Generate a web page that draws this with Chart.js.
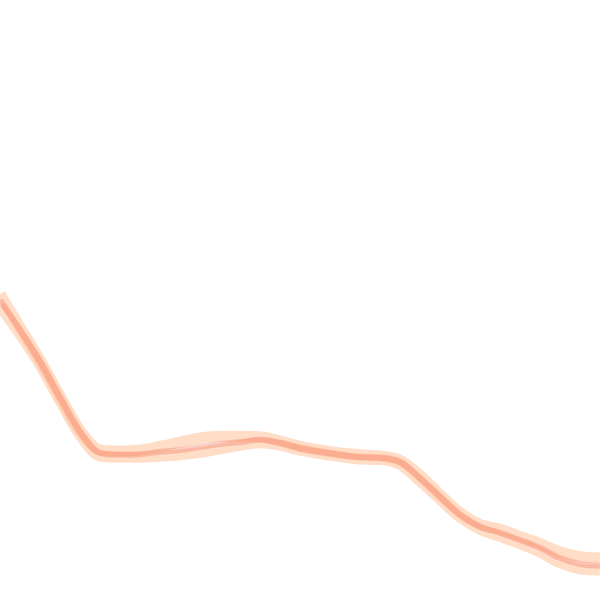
<!DOCTYPE html>
<html>
<head>
<meta charset="utf-8">
<script src="https://cdn.jsdelivr.net/npm/chart.js@4/dist/chart.umd.min.js"></script>
<style>
  html, body { margin: 0; padding: 0; background: #fff; }
</style>
</head>
<body>
<canvas id="line_chart" width="600" height="600"></canvas>
<script>
// 31 evenly spaced samples
var labels = [];
for (var i = 0; i <= 30; i++) { labels.push(i); }

var mainValues = [50.0, 45.0, 39.7, 33.7, 28.0, 24.5, 24.2, 24.3, 24.7, 25.0, 25.5, 26.0, 26.3, 26.7, 26.2,
                  25.3, 24.7, 24.2, 23.8, 23.7, 23.0, 20.3, 17.2, 14.2, 12.2, 11.2, 10.0, 8.7, 7.0, 6.0, 5.7];
var upperValues = [51.0, 45.5, 40.0, 34.0, 28.3, 25.0, 24.8, 25.0, 25.6, 26.3, 27.0, 27.3, 27.3, 27.2, 26.5,
                   25.6, 25.0, 24.5, 24.2, 24.0, 23.3, 20.8, 17.6, 14.6, 12.6, 11.8, 10.6, 9.4, 8.0, 7.2, 7.0];
var lowerValues = [49.0, 44.3, 39.2, 33.2, 27.5, 24.0, 23.8, 23.8, 24.0, 24.2, 24.6, 25.2, 25.8, 26.2, 25.8,
                   25.0, 24.4, 23.9, 23.5, 23.4, 22.6, 19.8, 16.8, 13.8, 11.8, 10.6, 9.4, 8.0, 6.2, 5.2, 5.0];

new Chart(document.getElementById("line_chart").getContext("2d"), {
    type: 'line',
    data: {
        labels: labels,
        datasets: [{
            data: upperValues,
            borderColor: 'rgba(255, 180, 130, 0.45)',
            borderWidth: 11,
            order: 3
        }, {
            data: lowerValues,
            borderColor: 'rgba(255, 180, 130, 0.45)',
            borderWidth: 11,
            order: 2
        }, {
            data: mainValues,
            borderColor: 'rgba(240, 120, 100, 0.35)',
            borderWidth: 6,
            order: 1
        }]
    },
    options: {
        responsive: false,
        animation: false,
        layout: { padding: 0 },
        elements: {
            point: { radius: 0 },
            line: { tension: 0.4, cubicInterpolationMode: 'monotone', fill: false }
        },
        plugins: { legend: { display: false }, tooltip: { enabled: false } },
        scales: {
            x: { display: false, offset: false },
            y: { display: false, min: 0, max: 100 }
        }
    }
});
</script>
</body>
</html>
